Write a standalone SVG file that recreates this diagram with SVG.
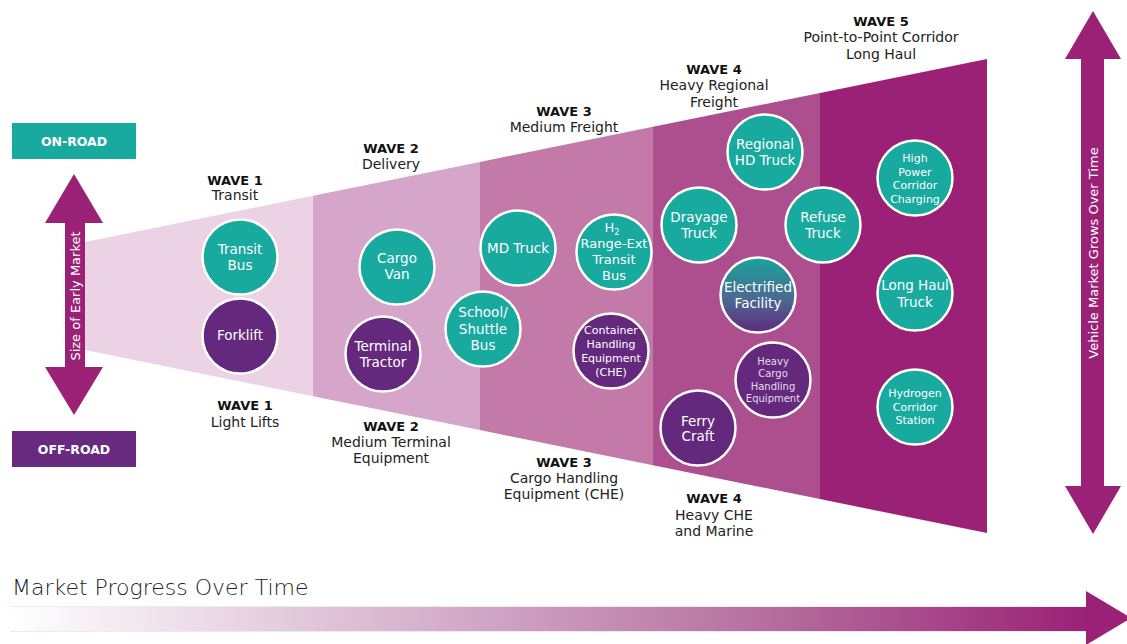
<svg xmlns="http://www.w3.org/2000/svg" width="1127" height="644" viewBox="0 0 1127 644">
<defs>
<style>
.nd{stroke:#fff;stroke-width:2.5}
.teal{fill:#18a99f}
.purp{fill:#64297d}
.nt{font-family:"DejaVu Sans","Liberation Sans",sans-serif;fill:#fff;text-anchor:middle;font-size:13.5px}
.s11{font-size:11px}
.s10{font-size:10px}
.s13{font-size:13px}
.wb{font-family:"DejaVu Sans","Liberation Sans",sans-serif;font-weight:bold;font-size:13px;fill:#111;text-anchor:middle}
.wt{font-family:"DejaVu Sans","Liberation Sans",sans-serif;font-size:14px;fill:#222;text-anchor:middle}
.box{font-family:"DejaVu Sans","Liberation Sans",sans-serif;font-weight:bold;font-size:12.5px;fill:#fff;text-anchor:middle}
.vt{font-family:"DejaVu Sans","Liberation Sans",sans-serif;font-size:13px;fill:#fff;text-anchor:middle}
.arr{fill:#9b2177}
</style>
<linearGradient id="elec" x1="0" y1="0" x2="0" y2="1">
<stop offset="0" stop-color="#1aa39c"/>
<stop offset="0.55" stop-color="#4a6a92"/>
<stop offset="1" stop-color="#5f2a7e"/>
</linearGradient>
<linearGradient id="prog" x1="0" y1="0" x2="1" y2="0">
<stop offset="0" stop-color="#ffffff"/>
<stop offset="0.2" stop-color="#ead6e5"/>
<stop offset="0.45" stop-color="#d0a3c4"/>
<stop offset="0.7" stop-color="#b66f9f"/>
<stop offset="1" stop-color="#9b2177"/>
</linearGradient>
</defs>
<rect width="1127" height="644" fill="#fff"/>

<g id="funnel">
<polygon points="85,242 313,195.7 313,396.3 85,350" fill="#ebd3e5"/>
<polygon points="313,195.7 480,161.9 480,430.1 313,396.3" fill="#d5a6c9"/>
<polygon points="480,161.9 653,126.8 653,465.2 480,430.1" fill="#c37aa9"/>
<polygon points="653,126.8 820,92.9 820,499.1 653,465.2" fill="#ad4e8e"/>
<polygon points="820,92.9 987,59 987,533 820,499.1" fill="#9b2177"/>
</g>

<g id="labels">
<text class="wb" x="235" y="185">WAVE 1</text>
<text class="wt" x="235" y="200">Transit</text>
<text class="wb" x="245" y="410">WAVE 1</text>
<text class="wt" x="245" y="427">Light Lifts</text>
<text class="wb" x="391" y="153">WAVE 2</text>
<text class="wt" x="391" y="169">Delivery</text>
<text class="wb" x="391" y="431">WAVE 2</text>
<text class="wt" x="391" y="447">Medium Terminal</text>
<text class="wt" x="391" y="463">Equipment</text>
<text class="wb" x="564" y="116">WAVE 3</text>
<text class="wt" x="564" y="132">Medium Freight</text>
<text class="wb" x="564" y="467">WAVE 3</text>
<text class="wt" x="564" y="483">Cargo Handling</text>
<text class="wt" x="564" y="499">Equipment (CHE)</text>
<text class="wb" x="714" y="74">WAVE 4</text>
<text class="wt" x="714" y="90">Heavy Regional</text>
<text class="wt" x="714" y="107">Freight</text>
<text class="wb" x="714" y="503">WAVE 4</text>
<text class="wt" x="714" y="520">Heavy CHE</text>
<text class="wt" x="714" y="536">and Marine</text>
<text class="wb" x="881" y="26">WAVE 5</text>
<text class="wt" x="881" y="42">Point-to-Point Corridor</text>
<text class="wt" x="881" y="59">Long Haul</text>
</g>

<g id="on-road">
<rect x="12" y="123" width="124" height="36" fill="#18a99f"/>
<text class="box" x="74" y="146">ON-ROAD</text>
</g>
<g id="off-road">
<rect x="12" y="431" width="124" height="36" fill="#682a7e"/>
<text class="box" x="74" y="454">OFF-ROAD</text>
</g>

<g id="transit-bus"><circle class="nd teal" cx="240" cy="257" r="37.5"/><text class="nt" x="240" y="254">Transit</text><text class="nt" x="240" y="270">Bus</text></g>
<g id="forklift"><circle class="nd purp" cx="240" cy="336" r="37.5"/><text class="nt" x="240" y="340">Forklift</text></g>
<g id="cargo-van"><circle class="nd teal" cx="397" cy="267" r="37.5"/><text class="nt" x="397" y="263">Cargo</text><text class="nt" x="397" y="279">Van</text></g>
<g id="terminal-tractor"><circle class="nd purp" cx="383" cy="354" r="37.5"/><text class="nt" x="383" y="351">Terminal</text><text class="nt" x="383" y="367">Tractor</text></g>
<g id="school-shuttle-bus"><circle class="nd teal" cx="483" cy="329" r="37.5"/><text class="nt" x="483" y="317">School/</text><text class="nt" x="483" y="334">Shuttle</text><text class="nt" x="483" y="350">Bus</text></g>
<g id="md-truck"><circle class="nd teal" cx="518" cy="248" r="37.5"/><text class="nt" x="518" y="253">MD Truck</text></g>
<g id="h2-range-ext-transit-bus"><circle class="nd teal" cx="614" cy="252" r="37.5"/><text class="nt s13" x="612" y="232">H<tspan font-size="8" dy="3">2</tspan></text><text class="nt s13" x="614" y="248">Range-Ext</text><text class="nt s13" x="614" y="264">Transit</text><text class="nt s13" x="614" y="280">Bus</text></g>
<g id="container-handling-equipment"><circle class="nd purp" cx="611" cy="351" r="37.5"/><text class="nt s11" x="611" y="334">Container</text><text class="nt s11" x="611" y="348">Handling</text><text class="nt s11" x="611" y="362">Equipment</text><text class="nt s11" x="611" y="376">(CHE)</text></g>
<g id="regional-hd-truck"><circle class="nd teal" cx="765" cy="152" r="37.5"/><text class="nt" x="765" y="149">Regional</text><text class="nt" x="765" y="165">HD Truck</text></g>
<g id="drayage-truck"><circle class="nd teal" cx="699" cy="225" r="37.5"/><text class="nt" x="699" y="222">Drayage</text><text class="nt" x="699" y="238">Truck</text></g>
<g id="refuse-truck"><circle class="nd teal" cx="823" cy="225" r="37.5"/><text class="nt" x="823" y="222">Refuse</text><text class="nt" x="823" y="238">Truck</text></g>
<g id="electrified-facility"><circle class="nd" fill="url(#elec)" cx="758" cy="295" r="37.5"/><text class="nt" x="758" y="292">Electrified</text><text class="nt" x="758" y="308">Facility</text></g>
<g id="heavy-cargo-handling-equipment"><circle class="nd purp" cx="773" cy="380" r="37.5"/><text class="nt s10" x="773" y="365" fill-opacity="0.85">Heavy</text><text class="nt s10" x="773" y="377" fill-opacity="0.85">Cargo</text><text class="nt s10" x="773" y="390" fill-opacity="0.85">Handling</text><text class="nt s10" x="773" y="402" fill-opacity="0.85">Equipment</text></g>
<g id="ferry-craft"><circle class="nd purp" cx="698" cy="428" r="37.5"/><text class="nt" x="698" y="426">Ferry</text><text class="nt" x="698" y="441">Craft</text></g>
<g id="high-power-corridor-charging"><circle class="nd teal" cx="915" cy="178" r="37.5"/><text class="nt s11" x="915" y="162">High</text><text class="nt s11" x="915" y="176">Power</text><text class="nt s11" x="915" y="189">Corridor</text><text class="nt s11" x="915" y="203">Charging</text></g>
<g id="long-haul-truck"><circle class="nd teal" cx="915" cy="293" r="37.5"/><text class="nt" x="915" y="290">Long Haul</text><text class="nt" x="915" y="307">Truck</text></g>
<g id="hydrogen-corridor-station"><circle class="nd teal" cx="915" cy="407" r="37.5"/><text class="nt s11" x="915" y="397">Hydrogen</text><text class="nt s11" x="915" y="411">Corridor</text><text class="nt s11" x="915" y="424">Station</text></g>

<g id="connectors">
<g id="early-market-arrow">
<polygon class="arr" points="74,174 103,223 85,223 85,367 103,367 74,415 45,367 65,367 65,223 45,223"/>
<text class="vt" transform="translate(79.5,296) rotate(-90)">Size of Early Market</text>
</g>
<g id="vehicle-market-arrow">
<polygon class="arr" points="1093,11 1121,59 1104,59 1104,486 1121,486 1093,534 1065,486 1081,486 1081,59 1065,59"/>
<text class="vt" transform="translate(1097.5,253) rotate(-90)" font-size="13.5">Vehicle Market Grows Over Time</text>
</g>
<g id="progress-arrow">
<rect x="10" y="607" width="1077" height="24" fill="url(#prog)"/>
<line x1="10" y1="606.5" x2="1087" y2="606.5" stroke="#ececec" stroke-width="1"/>
<line x1="10" y1="631.5" x2="1087" y2="631.5" stroke="#ececec" stroke-width="1"/>
<polygon class="arr" points="1086,591 1131,618 1086,645"/>
</g>
</g>
<text x="12" y="595" font-family="DejaVu Sans, Liberation Sans, sans-serif" font-weight="300" font-size="22" fill="#222">Market Progress Over Time</text>
</svg>
